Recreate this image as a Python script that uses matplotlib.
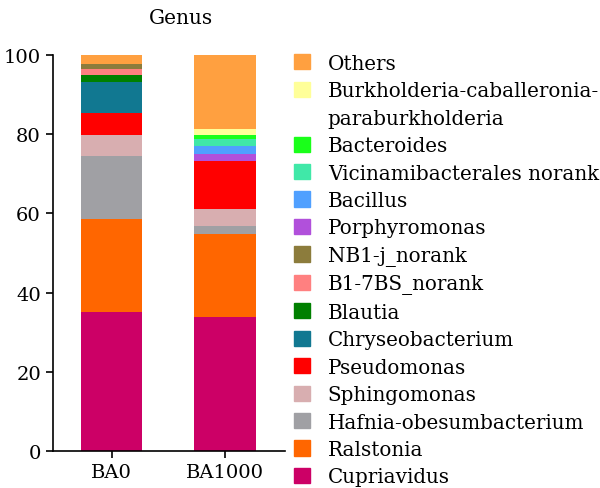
import numpy as np
import matplotlib.pyplot as plt
from matplotlib.patches import Patch

plt.rcParams['font.family'] = ['DejaVu Serif']

samples = ["BA0", "BA1000"]

# stacking order, bottom to top
genera = ["Cupriavidus", "Ralstonia", "Hafnia-obesumbacterium", "Sphingomonas",
          "Pseudomonas", "Chryseobacterium", "Blautia", "B1-7BS_norank",
          "NB1-j_norank", "Porphyromonas", "Bacillus", "Vicinamibacterales norank",
          "Bacteroides", "Burkholderia-caballeronia-\nparaburkholderia", "Others"]

ba0 = [35.0, 23.6, 15.8, 5.5, 5.5, 7.7, 1.9, 1.5, 1.3, 0, 0, 0, 0, 0, 2.2]
ba1000 = [33.8, 20.9, 2.1, 4.2, 12.2, 0, 0, 0, 0, 1.7, 2.0, 1.9, 1.1, 1.3, 18.8]

colors = ["#CC0066", "#FF6600", "#A0A0A4", "#D8AEB0", "#FF0000", "#117891",
          "#008000", "#FF8080", "#8C7C3C", "#B150DB", "#50A0FF", "#40E8A8",
          "#1AFF1A", "#FFFF99", "#FFA040"]

fig = plt.figure(figsize=(6, 4.89), dpi=100)
ax = fig.add_axes([0.088, 0.0757, 0.387, 0.81])

x = np.arange(len(samples))
data = np.array([ba0, ba1000]).T
bottom = np.zeros(len(samples))
for i in range(len(genera)):
    ax.bar(x, data[i], 0.54, bottom=bottom, color=colors[i], linewidth=0)
    bottom += data[i]

ax.set_xlim(-0.52, 1.53)
ax.set_ylim(0, 100)
ax.set_xticks(x)
ax.set_xticklabels(samples, fontsize=14)
ax.set_yticks([0, 20, 40, 60, 80, 100])
ax.tick_params(axis='y', labelsize=14, length=5, width=1.2)
ax.tick_params(axis='x', length=5, width=1.2)
ax.spines['top'].set_visible(False)
ax.spines['right'].set_visible(False)
ax.spines['left'].set_linewidth(1.2)
ax.spines['bottom'].set_linewidth(1.2)

fig.text(181/600, 1 - 18/489, "Genus", ha='center', va='center', fontsize=14.5)

# legend, top entry first; the long name is split over two rows
handles = []
for i in range(len(genera) - 1, -1, -1):
    name = genera[i]
    if "\n" in name:
        first, second = name.split("\n")
        handles.append(Patch(color=colors[i], label=first))
        handles.append(Patch(color="none", label=second))
    else:
        handles.append(Patch(color=colors[i], label=name))
fig.legend(handles=handles, loc='upper left', bbox_to_anchor=(0.49, 0.888),
           frameon=False, fontsize=14.3, handlelength=0.8, handleheight=0.8,
           handletextpad=0.9, labelspacing=0.425, borderaxespad=0, borderpad=0)

fig.savefig("out.png", dpi=100)
